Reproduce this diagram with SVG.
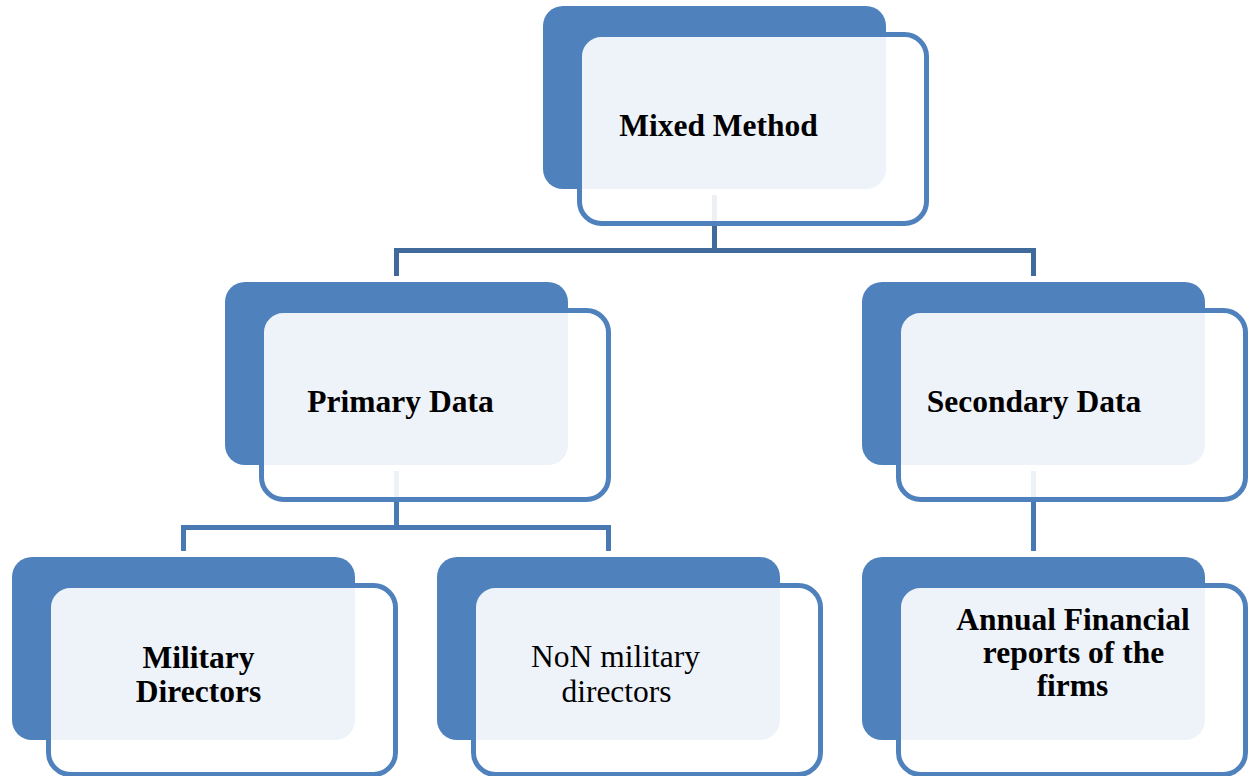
<svg xmlns="http://www.w3.org/2000/svg" width="1256" height="776" viewBox="0 0 1256 776">
<style>
.dark{fill:#4F81BD}
.light{fill:#ffffff;fill-opacity:0.9;stroke:#4F81BD;stroke-width:5}
.c1{fill:none;stroke:#3F6A9B;stroke-width:5}
.c2{fill:none;stroke:#4979B3;stroke-width:5}
text{font-family:"Liberation Serif","Times New Roman",serif;font-size:31.5px;fill:#000;text-anchor:middle}
.b{font-weight:bold}
</style>
<rect width="1256" height="776" fill="#ffffff"/>
<g id="connectors">
<path class="c1" d="M714.5 195 V250.5 M396.5 276 V250.5 H1033.5 V276"/>
<path class="c2" d="M396.5 471 V527.5 M183.5 551 V527.5 H608.5 V551"/>
<path class="c2" d="M1033.5 471 V551"/>
</g>
<g id="mixed-method">
<rect class="dark" x="543" y="6" width="343" height="183" rx="20"/>
<rect class="light" x="579.5" y="34.5" width="347" height="189" rx="22"/>
<text class="b" x="718.5" y="136">Mixed Method</text>
</g>
<g id="primary-data">
<rect class="dark" x="225" y="282" width="343" height="183" rx="20"/>
<rect class="light" x="261.5" y="310.5" width="347" height="189" rx="22"/>
<text class="b" x="400.5" y="412">Primary Data</text>
</g>
<g id="secondary-data">
<rect class="dark" x="862" y="282" width="343" height="183" rx="20"/>
<rect class="light" x="898.5" y="310.5" width="347" height="189" rx="22"/>
<text class="b" x="1034" y="412">Secondary Data</text>
</g>
<g id="military-directors">
<rect class="dark" x="12" y="557" width="343" height="183" rx="20"/>
<rect class="light" x="48.5" y="585.5" width="347" height="189" rx="22"/>
<text class="b" x="198.5" y="668">Military</text>
<text class="b" x="198.5" y="702">Directors</text>
</g>
<g id="non-military-directors">
<rect class="dark" x="437" y="557" width="343" height="183" rx="20"/>
<rect class="light" x="473.5" y="585.5" width="347" height="189" rx="22"/>
<text x="615.5" y="667">NoN military</text>
<text x="616.5" y="702">directors</text>
</g>
<g id="annual-reports">
<rect class="dark" x="862" y="557" width="343" height="183" rx="20"/>
<rect class="light" x="898.5" y="585.5" width="347" height="189" rx="22"/>
<text class="b" x="1073" y="630">Annual Financial</text>
<text class="b" x="1073.5" y="663">reports of the</text>
<text class="b" x="1072.5" y="696">firms</text>
</g>
</svg>
